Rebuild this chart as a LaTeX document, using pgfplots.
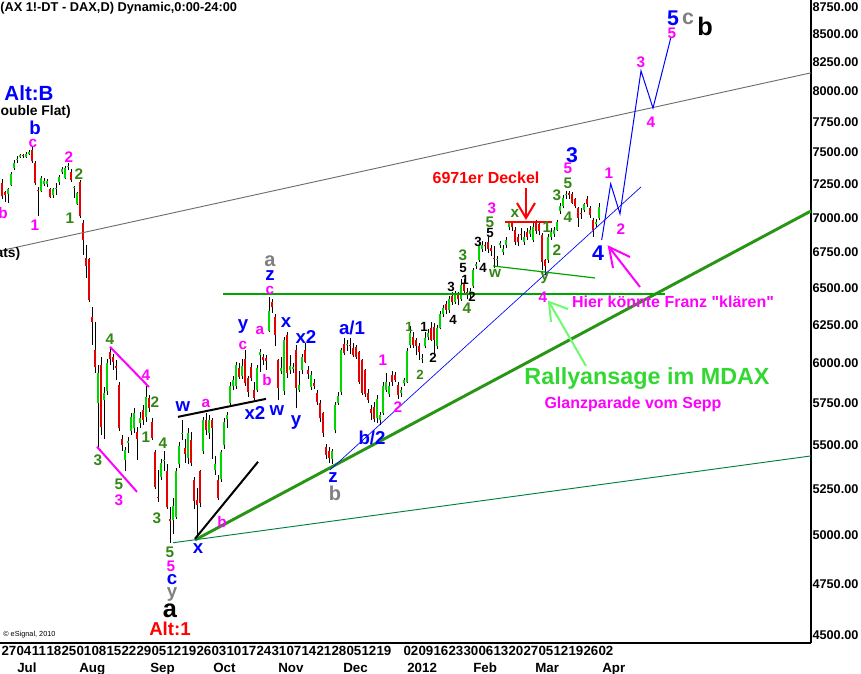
\documentclass[border=0pt]{standalone}
\usepackage{fontspec}
\setmainfont{Liberation Sans}
\usepackage{pgfplots}
\usepackage{pgfplotstable}
\pgfplotsset{compat=1.18}

\definecolor{wblue}{RGB}{0,0,255}
\definecolor{wmag}{RGB}{255,0,255}
\definecolor{wgreen}{RGB}{50,135,20}
\definecolor{wgrey}{RGB}{128,128,128}
\definecolor{wred}{RGB}{255,0,0}
\definecolor{candleup}{RGB}{0,215,0}
\definecolor{candledn}{RGB}{230,0,0}
\definecolor{trendgreen}{RGB}{40,150,20}
\definecolor{levelgreen}{RGB}{0,165,0}
\definecolor{chanteal}{RGB}{0,128,64}
\definecolor{rally}{RGB}{50,215,50}
\definecolor{rallyarrow}{RGB}{110,250,110}
\definecolor{lastbox}{RGB}{0,235,0}
\definecolor{chan}{RGB}{110,110,110}

\newcommand\fs[1]{\fontsize{#1}{#1}\selectfont}

% daily FDAX candles closing at or above the open: index, open, high, low, close
\pgfplotstableread{
i o h l c
2 7180 7225 7110 7215
3 7250 7350 7240 7335
4 7375 7440 7360 7420
5 7440 7470 7420 7448
6 7468 7492 7455 7482
8 7468 7505 7460 7490
9 7490 7520 7480 7506
13 7200 7315 7190 7300
14 7252 7300 7240 7280
15 7255 7290 7230 7276
17 7170 7225 7150 7214
18 7214 7260 7170 7222
19 7270 7325 7250 7310
20 7345 7385 7330 7370
21 7300 7390 7295 7380
22 7385 7420 7360 7392
24 7222 7235 7150 7228
25 7105 7190 7095 7185
32 5752 5990 5492 5939
34 5771 5850 5540 5815
35 5825 6030 5800 6000
41 5418 5490 5350 5474
42 5515 5550 5455 5525
43 5585 5690 5560 5670
44 5600 5720 5570 5690
46 5630 5700 5600 5660
48 5670 5855 5640 5790
53 5320 5420 5300 5400
54 5410 5470 5355 5416
57 5080 5200 5010 5160
58 5100 5370 5090 5353
59 5390 5520 5370 5497
60 5570 5650 5530 5575
62 5430 5600 5390 5575
67 5470 5670 5450 5650
69 5575 5680 5540 5650
71 5360 5440 5330 5390
73 5310 5475 5290 5460
74 5500 5660 5480 5640
75 5655 5700 5600 5680
76 5750 5880 5730 5860
77 5855 5920 5830 5895
78 5860 6010 5840 5990
80 5920 6030 5900 5980
85 5830 5990 5820 5970
86 6050 6090 5945 6075
89 6210 6434 6200 6340
93 5950 6040 5930 5970
94 5825 6170 5800 6150
96 5960 6050 5930 5980
97 5965 6000 5940 5975
99 5835 5950 5820 5865
100 5955 6060 5930 6040
103 5850 5950 5830 5925
110 5420 5480 5395 5470
111 5590 5760 5570 5740
112 5755 5820 5740 5795
113 5820 6100 5800 6085
115 6115 6150 6080 6122
125 5660 5800 5630 5780
126 5650 5700 5620 5680
127 5690 5880 5680 5855
128 5835 5940 5820 5880
129 5810 5880 5790 5855
133 5815 5850 5790 5833
134 5875 5910 5860 5895
135 5880 6100 5875 6080
136 6115 6240 6100 6195
140 6025 6060 6000 6032
141 6110 6200 6100 6165
142 6170 6220 6150 6195
145 6110 6250 6090 6230
146 6230 6340 6220 6320
147 6320 6380 6300 6360
149 6350 6440 6330 6420
151 6400 6480 6390 6460
153 6420 6560 6410 6520
156 6450 6500 6430 6480
157 6510 6640 6500 6620
158 6650 6680 6630 6662
159 6690 6820 6680 6800
160 6770 6830 6750 6800
165 6690 6720 6650 6697
166 6800 6830 6780 6812
167 6750 6800 6730 6770
168 6800 6860 6780 6840
169 6930 6975 6910 6960
174 6825 6900 6800 6860
176 6880 6940 6860 6910
177 6840 6960 6820 6930
182 6690 6880 6670 6860
183 6860 6920 6840 6895
184 6880 6930 6860 6910
185 6910 6980 6900 6965
186 7050 7110 7030 7090
187 7090 7170 7070 7150
188 7170 7200 7140 7180
194 7060 7110 7040 7100
198 6950 6990 6930 6965
199 6995 7110 6980 7077
}\fdaxup

% daily FDAX candles closing below the open
\pgfplotstableread{
i o h l c
0 7262 7290 7140 7160
1 7190 7200 7120 7170
7 7478 7490 7455 7470
10 7520 7555 7420 7430
11 7420 7430 7250 7262
12 7212 7230 7010 7200
16 7215 7225 7145 7157
23 7350 7370 7270 7285
26 7270 7285 7000 7010
27 6960 6980 6730 6837
28 6705 6800 6565 6650
29 6700 6710 6400 6416
30 6300 6370 6120 6270
31 6085 6270 5940 5975
33 5990 6040 5560 5610
36 6070 6105 5990 6030
37 6040 6060 5960 6010
38 5980 6020 5895 5970
39 5865 5880 5585 5600
40 5540 5560 5470 5505
45 5580 5610 5416 5540
47 5710 5740 5620 5650
49 5785 5800 5700 5725
50 5640 5660 5530 5545
51 5460 5475 5250 5265
52 5210 5360 5180 5200
55 5350 5390 5140 5150
56 5090 5150 4960 5075
61 5485 5540 5400 5450
63 5530 5580 5380 5400
64 5300 5320 5140 5185
65 5190 5260 4976 5165
66 5350 5360 5150 5175
68 5650 5690 5560 5590
70 5650 5660 5420 5600
72 5300 5330 5190 5200
79 5970 6000 5900 5915
81 6030 6085 5860 5875
82 5905 5920 5790 5820
83 5975 6000 5890 5910
84 5830 5880 5770 5785
87 6040 6060 5990 6020
88 6035 6050 5960 6015
90 6405 6420 6330 6365
91 6300 6320 6110 6185
92 6020 6030 5770 5845
95 6180 6200 5910 5940
98 6085 6120 5720 5845
101 6085 6130 6000 6010
102 5958 5980 5900 5935
104 5875 5900 5840 5860
105 5815 5830 5740 5760
106 5750 5770 5640 5660
107 5690 5700 5550 5575
108 5490 5510 5420 5445
109 5470 5490 5400 5430
114 6125 6160 6050 6065
116 6120 6160 6060 6112
117 6100 6130 6040 6050
118 6105 6120 6030 6040
119 6070 6080 5870 5885
120 6020 6030 5800 5815
121 5955 5965 5790 5805
122 5815 5840 5755 5770
123 5715 5740 5650 5690
124 5730 5760 5640 5655
130 5925 5950 5860 5880
131 5925 5945 5880 5895
132 5865 5880 5780 5800
137 6170 6200 6100 6120
138 6150 6160 6050 6110
139 6110 6130 6020 6070
143 6230 6270 6140 6150
144 6235 6260 6050 6150
148 6390 6410 6320 6350
150 6440 6470 6380 6400
152 6460 6470 6380 6420
154 6530 6560 6460 6480
155 6470 6500 6420 6450
161 6800 6820 6760 6790
162 6820 6860 6740 6770
163 6780 6800 6720 6760
164 6705 6790 6640 6700
170 6960 6970 6900 6930
171 6910 6930 6800 6825
172 6860 6880 6790 6820
173 6880 6920 6840 6875
175 6895 6920 6840 6860
178 6970 6985 6880 6900
179 6950 6960 6870 6900
180 6870 6890 6620 6680
181 6690 6700 6590 6650
189 7185 7200 7140 7170
190 7180 7190 7100 7110
191 7140 7150 7070 7090
192 7070 7080 6935 7000
193 7035 7070 6990 7030
195 7140 7160 7080 7100
196 7075 7090 7000 7020
197 6985 7000 6860 6910
}\fdaxdown

\pgfplotsset{
  stick/.style 2 args={draw=none, no markers, forget plot,
    error bars/.cd, y dir=plus, y explicit, error mark=none,
    error bar style={draw=#1, solid, line width=#2}},
}

\tikzset{
  w/.style={inner sep=0pt, font=\bfseries\fs{11.5}},
  W/.style={inner sep=0pt, font=\bfseries\fs{14}},
  WW/.style={inner sep=0pt, font=\bfseries\fs{16}},
}

\begin{document}
\begin{tikzpicture}
\path[use as bounding box] (0,0) rectangle (645.75pt,-505.5pt);
\begin{axis}[
  at={(0pt,0pt)}, anchor=north west,
  scale only axis, width=608.25pt, height=482.25pt,
  xmin=-0.667, xmax=269.667,
  ymode=log, ymin=4462, ymax=8815,
  axis x line*=bottom, axis y line*=right,
  axis line style={-, black, line width=0.9pt},
  major tick length=0pt,
  ytick={4500,4750,5000,5250,5500,5750,6000,6250,6500,6750,7000,7250,7500,7750,8000,8250,8500,8750},
  yticklabels={4500.00,4750.00,5000.00,5250.00,5500.00,5750.00,6000.00,6250.00,6500.00,6750.00,7000.00,7250.00,7500.00,7750.00,8000.00,8250.00,8500.00,8750.00},
  y tick label style={font=\bfseries\fs{9.5}, anchor=west, inner sep=0pt, xshift=1pt},
  xtick={2.333,7.333,12.333,17.333,22.333,27.333,32.333,37.333,42.333,47.333,52.333,57.333,62.333,67.333,72.333,77.333,82.333,87.333,92.333,97.333,102.333,107.333,112.333,117.333,122.333,127.333,136.333,141.333,146.333,151.333,156.333,161.333,166.333,171.333,176.333,181.333,186.333,191.333,196.333,201.333},
  xticklabels={27,04,11,18,25,01,08,15,22,29,05,12,19,26,03,10,17,24,31,07,14,21,28,05,12,19,02,09,16,23,30,06,13,20,27,05,12,19,26,02},
  x tick label style={font=\bfseries\fs{10}, anchor=north, inner sep=0pt, yshift=-2.25pt},
]
% wicks, low to high
\addplot[stick={black}{0.6pt}] table[x=i, y=l, y error expr=\thisrow{h}-\thisrow{l}] {\fdaxup};
\addplot[stick={black}{0.6pt}] table[x=i, y=l, y error expr=\thisrow{h}-\thisrow{l}] {\fdaxdown};
% bodies: dark rim first, colour fill on top
\addplot[stick={black}{2.0pt}] table[x=i, y=o, y error expr=\thisrow{c}-\thisrow{o}] {\fdaxup};
\addplot[stick={candleup}{1.45pt}] table[x=i, y=o, y error expr=\thisrow{c}-\thisrow{o}] {\fdaxup};
\addplot[stick={black}{2.0pt}] table[x=i, y=c, y error expr=\thisrow{o}-\thisrow{c}] {\fdaxdown};
\addplot[stick={candledn}{1.45pt}] table[x=i, y=c, y error expr=\thisrow{o}-\thisrow{c}] {\fdaxdown};

% channel and trend lines
\addplot[chan, line width=0.7pt] coordinates {(-0.667,6758) (269.667,8160)};
\addplot[trendgreen, line width=2.2pt] coordinates {(64.33,4976) (269.667,7050)};
\addplot[chanteal, line width=0.7pt] coordinates {(57,4961) (269.667,5439)};
\addplot[levelgreen, line width=0.9pt] coordinates {(73.67,6457) (221,6457)};
\addplot[levelgreen, line width=0.9pt] coordinates {(163.67,6651) (197.67,6567)};
\addplot[wred, line width=1.6pt] coordinates {(167.67,6971) (183.33,6971)};
\addplot[wblue, line width=0.5pt] coordinates {(109.33,5359) (213,7232)};
\addplot[black, line width=1.5pt] coordinates {(58.67,5669) (88,5778)};
\addplot[black, line width=1.5pt] coordinates {(64.33,4982) (85.33,5405)};
\addplot[wmag, line width=1.5pt] coordinates {(36,6105) (49,5851)};
\addplot[wmag, line width=1.5pt] coordinates {(31.67,5492) (45,5236)};
% projected wave path
\addplot[wblue, line width=0.75pt] coordinates {(199.9,6837) (202.9,7255) (206,7028) (213,8177) (217,7862) (223,8476)};

\node[anchor=west, fill=lastbox, text=white, font=\bfseries\fs{9.5}, inner xsep=0.8pt, inner ysep=1.6pt]
  at (axis cs:269.667,7077) {7077.00};
\end{axis}

\begin{scope}[x=0.75pt, y=-0.75pt]
% header
\node[anchor=west, inner sep=0pt, font=\bfseries\fs{9.6}] at (0,8) {(AX 1!-DT - DAX,D) Dynamic,0:00-24:00};
\node[anchor=west, inner sep=0pt, font=\fs{5.5}] at (3,635) {\textcopyright\ eSignal, 2010};
% month row
\foreach \m/\p in {Jul/17,Aug/79,Sep/150,Oct/213,Nov/278,Dec/343,2012/407,Feb/473,Mar/535,Apr/602}
  \node[anchor=base west, inner sep=0pt, font=\bfseries\fs{10}] at (\p,672) {\m};

% left part
\node[W, text=wblue, font=\bfseries\fs{15.4}] at (29,93) {Alt:B};
\node[anchor=east, inner sep=0pt, font=\bfseries\fs{10.4}, overlay] at (71,112) {(Double Flat)};
\node[anchor=east, inner sep=0pt, font=\bfseries\fs{10.4}, overlay] at (20.5,254) {Flats)};
\node[W, text=wblue] at (35,128) {b};
\node[w, text=wmag] at (33,143) {c};
\node[w, text=wmag] at (69,157) {2};
\node[w, text=wmag] at (35,225) {1};
\node[w, text=wmag] at (3,213) {b};
\node[w, text=wgreen] at (79,174) {2};
\node[w, text=wgreen] at (70,218) {1};

\node[w, text=wgreen] at (110,339) {4};
\node[w, text=wmag] at (146,375) {4};
\node[w, text=wgreen] at (155,402) {2};
\node[w, text=wgreen] at (146,437) {1};
\node[w, text=wgreen] at (98,460) {3};
\node[w, text=wgreen] at (119,484) {5};
\node[w, text=wmag] at (119,500) {3};
\node[w, text=wgreen] at (163,443) {4};
\node[w, text=wgreen] at (157,518) {3};
\node[w, text=wgreen] at (170,552) {5};
\node[w, text=wmag] at (171,566) {5};
\node[W, text=wblue] at (172,580) {c};
\node[W, text=wgrey] at (172,595) {y};
\node[inner sep=0pt, font=\bfseries\fs{19}] at (170,611) {a};
\node[W, text=wred] at (170,629) {Alt:1};

% autumn structure
\node[W, text=wblue] at (183,407) {w};
\node[w, text=wmag] at (206,403) {a};
\node[W, text=wblue] at (198,549) {x};
\node[w, text=wmag] at (222,522) {b};
\node[W, text=wblue] at (243,327) {y};
\node[w, text=wmag] at (243,345) {c};
\node[w, text=wmag] at (260,330) {a};
\node[w, text=wmag] at (267,380) {b};
\node[W, text=wblue] at (255,413) {x2};
\node[W, text=wgrey, font=\bfseries\fs{15}] at (270,261) {a};
\node[W, text=wblue] at (270,276) {z};
\node[w, text=wmag] at (270,290) {c};
\node[W, text=wblue] at (286,323) {x};
\node[W, text=wblue] at (277,411) {w};
\node[W, text=wblue] at (306,337) {x2};
\node[W, text=wblue] at (296,423) {y};
\node[W, text=wblue] at (333,478) {z};
\node[W, text=wgrey, font=\bfseries\fs{15}] at (335,493) {b};
\node[W, text=wblue] at (352,328) {a/1};
\node[W, text=wblue] at (372,438) {b/2};
\node[w, text=wmag] at (383,360) {1};
\node[w, text=wmag] at (398,407) {2};

% winter rally counts
\node[w, text=wgreen, font=\bfseries\fs{10}] at (409,327) {1};
\node[w, text=wgreen, font=\bfseries\fs{10}] at (420,375) {2};
\node[w, font=\bfseries\fs{10}] at (424,327) {1};
\node[w, font=\bfseries\fs{10}] at (433,358) {2};
\node[w, font=\bfseries\fs{10}] at (453,320) {4};
\node[w, font=\bfseries\fs{10}] at (451,287) {3};
\node[w, font=\bfseries\fs{10}] at (465,280) {1};
\node[w, font=\bfseries\fs{10}] at (472,297) {2};
\node[w, text=wgreen] at (467,308) {4};
\node[w, text=wgreen] at (463,255) {3};
\node[w, font=\bfseries\fs{10}] at (463,268) {5};
\node[w, font=\bfseries\fs{10}] at (478,242) {3};
\node[w, font=\bfseries\fs{10}] at (490,233) {5};
\node[w, font=\bfseries\fs{10}] at (483,268) {4};
\node[w, text=wgreen] at (490,222) {5};
\node[w, text=wmag] at (492,208) {3};
\node[w, text=wgreen] at (495,273) {w};
\node[w, text=wgreen] at (515,213) {x};
\node[inner sep=0pt, text=wred, font=\bfseries\fs{12}] at (486,178) {6971er Deckel};
\node[w, text=wgreen] at (547,227) {1};
\node[w, text=wgreen] at (557,250) {2};
\node[w, text=wgreen] at (545,278) {y};
\node[w, text=wmag] at (543,297) {4};
\node[w, text=wgreen] at (557,195) {3};
\node[w, text=wgreen] at (568,183) {5};
\node[w, text=wmag] at (568,168) {5};
\node[WW, text=wblue] at (572,155) {3};
\node[w, text=wgreen] at (568,217) {4};

% projection labels
\node[w, text=wmag] at (609,173) {1};
\node[w, text=wmag] at (621,229) {2};
\node[WW, text=wblue] at (598,253) {4};
\node[w, text=wmag] at (641,62) {3};
\node[w, text=wmag] at (651,122) {4};
\node[w, text=wmag] at (672,33) {5};
\node[WW, text=wblue] at (673,18) {5};
\node[WW, text=wgrey] at (688,19) {c};
\node[inner sep=0pt, font=\bfseries\fs{19}] at (705,26) {b};

% comments on the chart
\node[inner sep=0pt, text=wmag, font=\bfseries\fs{12}] at (673,302) {Hier könnte Franz \textquotedbl klären\textquotedbl};
\node[inner sep=0pt, text=rally, font=\bfseries\fs{17.5}] at (647,379) {Rallyansage im MDAX};
\node[inner sep=0pt, text=wmag, font=\bfseries\fs{12}] at (633,404) {Glanzparade vom Sepp};

% arrows
\draw[wred, line width=1.5pt] (526,188) -- (526,218);
\draw[wred, line width=1.5pt] (517,203) -- (526,218) -- (535,203);
\draw[wmag, line width=1.5pt] (640,287) -- (609,247);
\draw[wmag, line width=1.5pt] (613,268) -- (609,247) -- (630,257);
\draw[rallyarrow, line width=1.5pt] (586,366) -- (549,302);
\draw[rallyarrow, line width=1.5pt] (551,322) -- (549,302) -- (568,309);
\end{scope}
\end{tikzpicture}
\end{document}
